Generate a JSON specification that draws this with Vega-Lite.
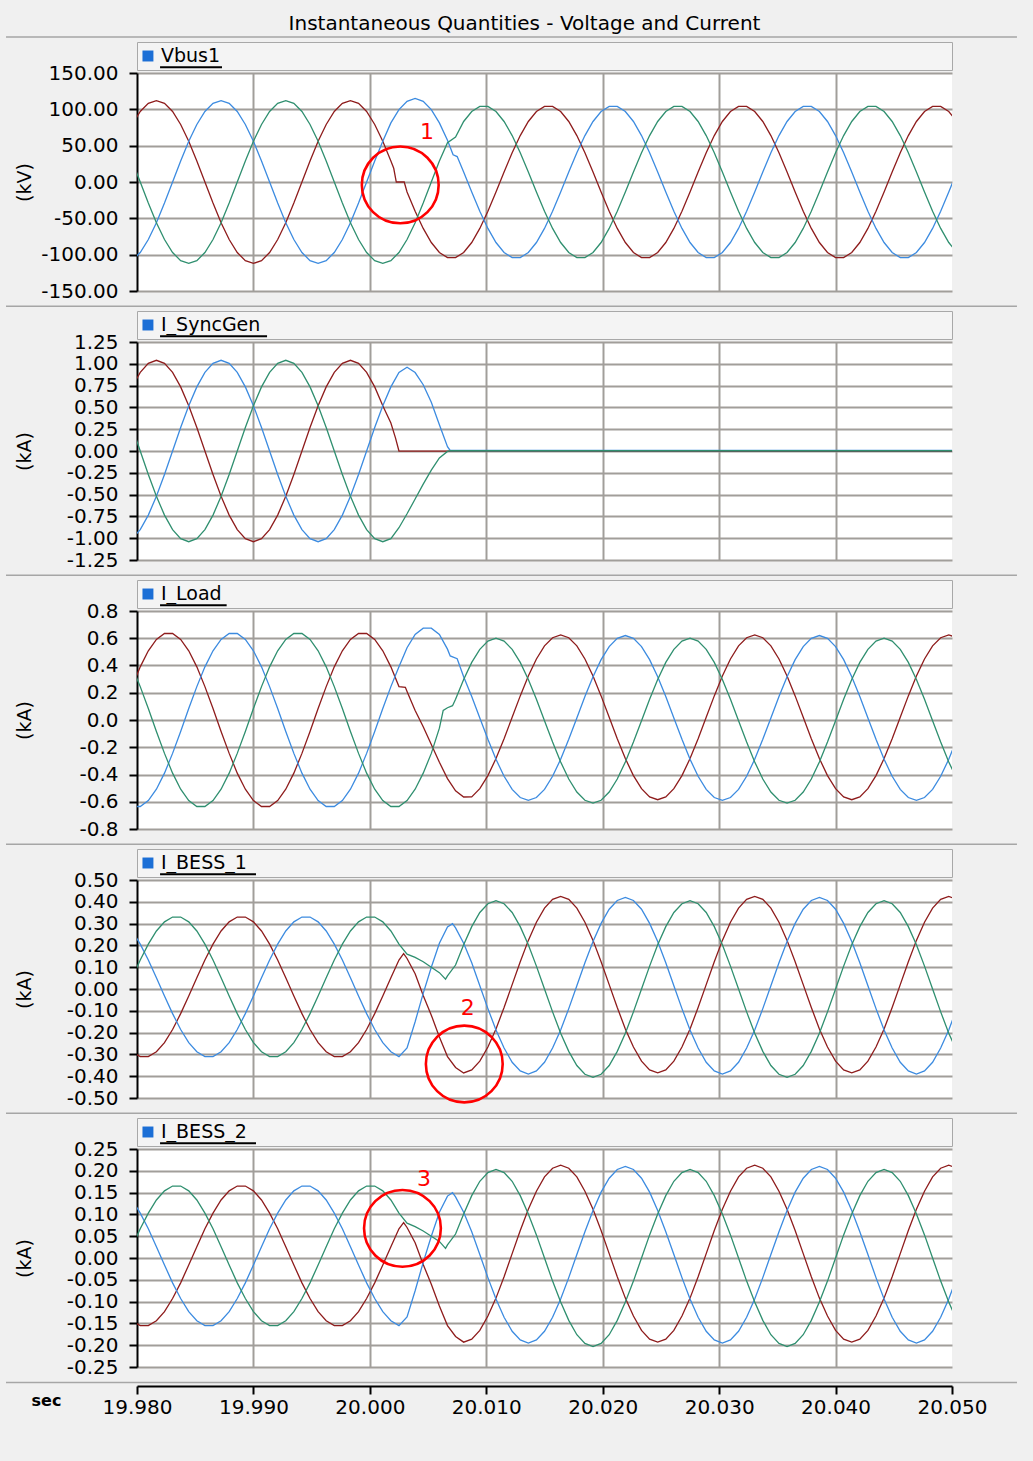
{
  "$schema": "https://vega.github.io/schema/vega-lite/v6.json",
  "background": "#f0f0f0",
  "padding": {"left": 4, "top": 13, "right": 40, "bottom": 60},
  "title": {"text": "Instantaneous Quantities - Voltage and Current", "font": "DejaVu Sans", "fontSize": 20, "fontWeight": "normal", "color": "#000000", "anchor": "middle", "frame": "group", "offset": 2, "dx": -20},
  "datasets": {
    "w": [
      {"t":19.979583,"r1":79.2,"b1":-108.2,"g1":29,"r2":0.735,"b2":-1.005,"g2":0.269,"r3":0.245,"b3":-0.635,"g3":0.39,"r4":-0.288,"b4":0.266,"g4":0.052,"r5":-0.144,"b5":0.133,"g5":0.026},
      {"t":19.980278,"r1":97,"b1":-97,"g1":0,"r2":0.901,"b2":-0.901,"g2":0,"r3":0.39,"b3":-0.635,"g3":0.245,"r4":-0.31,"b4":0.206,"g4":0.133,"r5":-0.155,"b5":0.103,"g5":0.067},
      {"t":19.980972,"r1":108.2,"b1":-79.2,"g1":-29,"r2":1.005,"b2":-0.735,"g2":-0.269,"r3":0.508,"b3":-0.591,"g3":0.084,"r4":-0.31,"b4":0.133,"g4":0.206,"r5":-0.155,"b5":0.067,"g5":0.103},
      {"t":19.981667,"r1":112,"b1":-56,"g1":-56,"r2":1.04,"b2":-0.52,"g2":-0.52,"r3":0.591,"b3":-0.508,"g3":-0.084,"r4":-0.288,"b4":0.052,"g4":0.266,"r5":-0.144,"b5":0.026,"g5":0.133},
      {"t":19.982361,"r1":108.2,"b1":-29,"g1":-79.2,"r2":1.005,"b2":-0.269,"g2":-0.735,"r3":0.635,"b3":-0.39,"g3":-0.245,"r4":-0.246,"b4":-0.032,"g4":0.308,"r5":-0.123,"b5":-0.016,"g5":0.154},
      {"t":19.983056,"r1":97,"b1":0,"g1":-97,"r2":0.901,"b2":0,"g2":-0.901,"r3":0.635,"b3":-0.245,"g3":-0.39,"r4":-0.186,"b4":-0.113,"g4":0.33,"r5":-0.093,"b5":-0.057,"g5":0.165},
      {"t":19.98375,"r1":79.2,"b1":29,"g1":-108.2,"r2":0.735,"b2":0.269,"g2":-1.005,"r3":0.591,"b3":-0.084,"g3":-0.508,"r4":-0.113,"b4":-0.186,"g4":0.33,"r5":-0.057,"b5":-0.093,"g5":0.165},
      {"t":19.984444,"r1":56,"b1":56,"g1":-112,"r2":0.52,"b2":0.52,"g2":-1.04,"r3":0.508,"b3":0.084,"g3":-0.591,"r4":-0.032,"b4":-0.246,"g4":0.308,"r5":-0.016,"b5":-0.123,"g5":0.154},
      {"t":19.985139,"r1":29,"b1":79.2,"g1":-108.2,"r2":0.269,"b2":0.735,"g2":-1.005,"r3":0.39,"b3":0.245,"g3":-0.635,"r4":0.052,"b4":-0.288,"g4":0.266,"r5":0.026,"b5":-0.144,"g5":0.133},
      {"t":19.985833,"r1":0,"b1":97,"g1":-97,"r2":0,"b2":0.901,"g2":-0.901,"r3":0.245,"b3":0.39,"g3":-0.635,"r4":0.133,"b4":-0.31,"g4":0.206,"r5":0.067,"b5":-0.155,"g5":0.103},
      {"t":19.986528,"r1":-29,"b1":108.2,"g1":-79.2,"r2":-0.269,"b2":1.005,"g2":-0.735,"r3":0.084,"b3":0.508,"g3":-0.591,"r4":0.206,"b4":-0.31,"g4":0.133,"r5":0.103,"b5":-0.155,"g5":0.067},
      {"t":19.987222,"r1":-56,"b1":112,"g1":-56,"r2":-0.52,"b2":1.04,"g2":-0.52,"r3":-0.084,"b3":0.591,"g3":-0.508,"r4":0.266,"b4":-0.288,"g4":0.052,"r5":0.133,"b5":-0.144,"g5":0.026},
      {"t":19.987917,"r1":-79.2,"b1":108.2,"g1":-29,"r2":-0.735,"b2":1.005,"g2":-0.269,"r3":-0.245,"b3":0.635,"g3":-0.39,"r4":0.308,"b4":-0.246,"g4":-0.032,"r5":0.154,"b5":-0.123,"g5":-0.016},
      {"t":19.988611,"r1":-97,"b1":97,"g1":0,"r2":-0.901,"b2":0.901,"g2":0,"r3":-0.39,"b3":0.635,"g3":-0.245,"r4":0.33,"b4":-0.186,"g4":-0.113,"r5":0.165,"b5":-0.093,"g5":-0.057},
      {"t":19.989306,"r1":-108.2,"b1":79.2,"g1":29,"r2":-1.005,"b2":0.735,"g2":0.269,"r3":-0.508,"b3":0.591,"g3":-0.084,"r4":0.33,"b4":-0.113,"g4":-0.186,"r5":0.165,"b5":-0.057,"g5":-0.093},
      {"t":19.99,"r1":-112,"b1":56,"g1":56,"r2":-1.04,"b2":0.52,"g2":0.52,"r3":-0.591,"b3":0.508,"g3":0.084,"r4":0.308,"b4":-0.032,"g4":-0.246,"r5":0.154,"b5":-0.016,"g5":-0.123},
      {"t":19.990694,"r1":-108.2,"b1":29,"g1":79.2,"r2":-1.005,"b2":0.269,"g2":0.735,"r3":-0.635,"b3":0.39,"g3":0.245,"r4":0.266,"b4":0.052,"g4":-0.288,"r5":0.133,"b5":0.026,"g5":-0.144},
      {"t":19.991389,"r1":-97,"b1":0,"g1":97,"r2":-0.901,"b2":0,"g2":0.901,"r3":-0.635,"b3":0.245,"g3":0.39,"r4":0.206,"b4":0.133,"g4":-0.31,"r5":0.103,"b5":0.067,"g5":-0.155},
      {"t":19.992083,"r1":-79.2,"b1":-29,"g1":108.2,"r2":-0.735,"b2":-0.269,"g2":1.005,"r3":-0.591,"b3":0.084,"g3":0.508,"r4":0.133,"b4":0.206,"g4":-0.31,"r5":0.067,"b5":0.103,"g5":-0.155},
      {"t":19.992778,"r1":-56,"b1":-56,"g1":112,"r2":-0.52,"b2":-0.52,"g2":1.04,"r3":-0.508,"b3":-0.084,"g3":0.591,"r4":0.052,"b4":0.266,"g4":-0.288,"r5":0.026,"b5":0.133,"g5":-0.144},
      {"t":19.993472,"r1":-29,"b1":-79.2,"g1":108.2,"r2":-0.269,"b2":-0.735,"g2":1.005,"r3":-0.39,"b3":-0.245,"g3":0.635,"r4":-0.032,"b4":0.308,"g4":-0.246,"r5":-0.016,"b5":0.154,"g5":-0.123},
      {"t":19.994167,"r1":0,"b1":-97,"g1":97,"r2":0,"b2":-0.901,"g2":0.901,"r3":-0.245,"b3":-0.39,"g3":0.635,"r4":-0.113,"b4":0.33,"g4":-0.186,"r5":-0.057,"b5":0.165,"g5":-0.093},
      {"t":19.994861,"r1":29,"b1":-108.2,"g1":79.2,"r2":0.269,"b2":-1.005,"g2":0.735,"r3":-0.084,"b3":-0.508,"g3":0.591,"r4":-0.186,"b4":0.33,"g4":-0.113,"r5":-0.093,"b5":0.165,"g5":-0.057},
      {"t":19.995556,"r1":56,"b1":-112,"g1":56,"r2":0.52,"b2":-1.04,"g2":0.52,"r3":0.084,"b3":-0.591,"g3":0.508,"r4":-0.246,"b4":0.308,"g4":-0.032,"r5":-0.123,"b5":0.154,"g5":-0.016},
      {"t":19.99625,"r1":79.2,"b1":-108.2,"g1":29,"r2":0.735,"b2":-1.005,"g2":0.269,"r3":0.245,"b3":-0.635,"g3":0.39,"r4":-0.288,"b4":0.266,"g4":0.052,"r5":-0.144,"b5":0.133,"g5":0.026},
      {"t":19.996944,"r1":97,"b1":-97,"g1":0,"r2":0.901,"b2":-0.901,"g2":0,"r3":0.39,"b3":-0.635,"g3":0.245,"r4":-0.31,"b4":0.206,"g4":0.133,"r5":-0.155,"b5":0.103,"g5":0.067},
      {"t":19.997639,"r1":108.2,"b1":-79.2,"g1":-29,"r2":1.005,"b2":-0.735,"g2":-0.269,"r3":0.508,"b3":-0.591,"g3":0.084,"r4":-0.31,"b4":0.133,"g4":0.206,"r5":-0.155,"b5":0.067,"g5":0.103},
      {"t":19.998333,"r1":112,"b1":-56,"g1":-56,"r2":1.04,"b2":-0.52,"g2":-0.52,"r3":0.591,"b3":-0.508,"g3":-0.084,"r4":-0.288,"b4":0.052,"g4":0.266,"r5":-0.144,"b5":0.026,"g5":0.133},
      {"t":19.999028,"r1":108.2,"b1":-29,"g1":-79.2,"r2":1.005,"b2":-0.269,"g2":-0.735,"r3":0.635,"b3":-0.39,"g3":-0.245,"r4":-0.246,"b4":-0.032,"g4":0.308,"r5":-0.123,"b5":-0.016,"g5":0.154},
      {"t":19.999722,"r1":97,"b1":0,"g1":-97,"r2":0.901,"b2":0,"g2":-0.901,"r3":0.635,"b3":-0.245,"g3":-0.39,"r4":-0.186,"b4":-0.113,"g4":0.33,"r5":-0.093,"b5":-0.057,"g5":0.165},
      {"t":20.000417,"r1":79.2,"b1":29,"g1":-108.2,"r2":0.735,"b2":0.269,"g2":-1.005,"r3":0.591,"b3":-0.084,"g3":-0.508,"r4":-0.113,"b4":-0.186,"g4":0.33,"r5":-0.057,"b5":-0.093,"g5":0.165},
      {"t":20.001111,"r1":56,"b1":56,"g1":-112,"r2":0.52,"b2":0.52,"g2":-1.04,"r3":0.508,"b3":0.084,"g3":-0.591,"r4":-0.032,"b4":-0.246,"g4":0.308,"r5":-0.016,"b5":-0.123,"g5":0.154},
      {"t":20.001806,"r1":29,"b1":81.3,"g1":-108.2,"r2":0.32,"b2":0.735,"g2":-1.005,"r3":0.39,"b3":0.245,"g3":-0.635,"r4":0.052,"b4":-0.288,"g4":0.266,"r5":0.026,"b5":-0.144,"g5":0.133},
      {"t":20.00205,"r1":18.9},
      {"t":20.0022,"r2":0.15},
      {"t":20.00227,"r1":0},
      {"t":20.0025,"r1":0,"b1":99.6,"g1":-97,"r2":0,"b2":0.9,"g2":-0.88,"r3":0.245,"b3":0.39,"g3":-0.635,"r4":0.133,"b4":-0.31,"g4":0.206,"r5":0.067,"b5":-0.155,"g5":0.103},
      {"t":20.0029,"r4":0.162,"r5":0.081},
      {"t":20.00295,"r1":0},
      {"t":20.00305,"r3":0.24},
      {"t":20.003194,"r1":-13.7,"b1":111.1,"g1":-79.2,"b2":0.96,"g2":-0.72,"r3":0.21,"b3":0.53,"g3":-0.591,"r4":0.14,"b4":-0.27,"g4":0.16,"r5":0.07,"b5":-0.135,"g5":0.08},
      {"t":20.003889,"r1":-40.2,"b1":115,"g1":-56,"b2":0.9,"g2":-0.55,"r3":0.07,"b3":0.628,"g3":-0.508,"r4":0.07,"b4":-0.15,"g4":0.145,"r5":0.035,"b5":-0.075,"g5":0.072},
      {"t":20.004583,"r1":-63.9,"b1":111.1,"g1":-29,"b2":0.76,"g2":-0.38,"r3":-0.05,"b3":0.674,"g3":-0.39,"r4":-0.03,"b4":-0.02,"g4":0.125,"r5":-0.015,"b5":-0.01,"g5":0.062},
      {"t":20.005278,"r1":-83.3,"b1":99.6,"g1":0,"b2":0.56,"g2":-0.22,"r3":-0.18,"b3":0.674,"g3":-0.245,"r4":-0.12,"b4":0.1,"g4":0.1,"r5":-0.06,"b5":0.05,"g5":0.05},
      {"t":20.005972,"r1":-97,"b1":81.3,"g1":29,"b2":0.3,"g2":-0.08,"r3":-0.31,"b3":0.628,"g3":-0.06,"r4":-0.22,"b4":0.21,"g4":0.075,"r5":-0.11,"b5":0.105,"g5":0.038},
      {"t":20.0063,"g3":0.07},
      {"t":20.0065,"g4":0.045,"g5":0.022},
      {"t":20.006667,"r1":-104.1,"b1":57.5,"g1":54,"b2":0.05,"g2":-0.005,"r3":-0.43,"b3":0.52,"g3":0.09,"r4":-0.31,"b4":0.285,"g4":0.06,"r5":-0.155,"b5":0.142,"g5":0.03},
      {"t":20.0069,"b2":0.006,"g2":0.003,"b3":0.47},
      {"t":20.0071,"g3":0.105,"b4":0.3,"b5":0.15},
      {"t":20.00715,"b1":37.5},
      {"t":20.007361,"r1":-104.1,"g1":62,"r3":-0.52,"g3":0.152,"r4":-0.36,"b4":0.28,"g4":0.11,"r5":-0.18,"b5":0.14,"g5":0.055},
      {"t":20.0075,"b1":35,"b3":0.45},
      {"t":20.008056,"r1":-97,"b1":13.7,"g1":83.3,"r3":-0.565,"b3":0.318,"g3":0.298,"r4":-0.385,"b4":0.21,"g4":0.2025,"r5":-0.193,"b5":0.105,"g5":0.101},
      {"t":20.00875,"r1":-83.3,"b1":-13.7,"g1":97,"r3":-0.564,"b3":0.172,"g3":0.423,"r4":-0.371,"b4":0.12,"g4":0.286,"r5":-0.186,"b5":0.06,"g5":0.143},
      {"t":20.009444,"r1":-63.9,"b1":-40.2,"g1":104.1,"r3":-0.504,"b3":0.015,"g3":0.519,"r4":-0.331,"b4":0.015,"g4":0.351,"r5":-0.166,"b5":0.008,"g5":0.176},
      {"t":20.010139,"r1":-40.2,"b1":-63.9,"g1":104.1,"r3":-0.408,"b3":-0.142,"g3":0.579,"r4":-0.266,"b4":-0.09,"g4":0.391,"r5":-0.133,"b5":-0.045,"g5":0.196},
      {"t":20.010833,"r1":-13.7,"b1":-83.3,"g1":97,"r3":-0.283,"b3":-0.288,"g3":0.6,"r4":-0.183,"b4":-0.188,"g4":0.405,"r5":-0.092,"b5":-0.094,"g5":0.203},
      {"t":20.011528,"r1":13.7,"b1":-97,"g1":83.3,"r3":-0.137,"b3":-0.413,"g3":0.579,"r4":-0.085,"b4":-0.271,"g4":0.391,"r5":-0.043,"b5":-0.136,"g5":0.196},
      {"t":20.012222,"r1":40.2,"b1":-104.1,"g1":63.9,"r3":0.02,"b3":-0.509,"g3":0.519,"r4":0.02,"b4":-0.336,"g4":0.351,"r5":0.01,"b5":-0.168,"g5":0.176},
      {"t":20.012917,"r1":63.9,"b1":-104.1,"g1":40.2,"r3":0.177,"b3":-0.569,"g3":0.423,"r4":0.125,"b4":-0.376,"g4":0.286,"r5":0.063,"b5":-0.188,"g5":0.143},
      {"t":20.013611,"r1":83.3,"b1":-97,"g1":13.7,"r3":0.323,"b3":-0.59,"g3":0.298,"r4":0.223,"b4":-0.39,"g4":0.2025,"r5":0.112,"b5":-0.195,"g5":0.101},
      {"t":20.014306,"r1":97,"b1":-83.3,"g1":-13.7,"r3":0.448,"b3":-0.569,"g3":0.152,"r4":0.306,"b4":-0.376,"g4":0.105,"r5":0.153,"b5":-0.188,"g5":0.053},
      {"t":20.015,"r1":104.1,"b1":-63.9,"g1":-40.2,"r3":0.544,"b3":-0.509,"g3":-0.005,"r4":0.371,"b4":-0.336,"g4":0,"r5":0.186,"b5":-0.168,"g5":0},
      {"t":20.015694,"r1":104.1,"b1":-40.2,"g1":-63.9,"r3":0.604,"b3":-0.413,"g3":-0.162,"r4":0.411,"b4":-0.271,"g4":-0.105,"r5":0.206,"b5":-0.136,"g5":-0.053},
      {"t":20.016389,"r1":97,"b1":-13.7,"g1":-83.3,"r3":0.625,"b3":-0.288,"g3":-0.308,"r4":0.425,"b4":-0.188,"g4":-0.2025,"r5":0.213,"b5":-0.094,"g5":-0.101},
      {"t":20.017083,"r1":83.3,"b1":13.7,"g1":-97,"r3":0.604,"b3":-0.142,"g3":-0.433,"r4":0.411,"b4":-0.09,"g4":-0.286,"r5":0.206,"b5":-0.045,"g5":-0.143},
      {"t":20.017778,"r1":63.9,"b1":40.2,"g1":-104.1,"r3":0.544,"b3":0.015,"g3":-0.529,"r4":0.371,"b4":0.015,"g4":-0.351,"r5":0.186,"b5":0.008,"g5":-0.176},
      {"t":20.018472,"r1":40.2,"b1":63.9,"g1":-104.1,"r3":0.448,"b3":0.172,"g3":-0.589,"r4":0.306,"b4":0.12,"g4":-0.391,"r5":0.153,"b5":0.06,"g5":-0.196},
      {"t":20.019167,"r1":13.7,"b1":83.3,"g1":-97,"r3":0.323,"b3":0.318,"g3":-0.61,"r4":0.223,"b4":0.218,"g4":-0.405,"r5":0.112,"b5":0.109,"g5":-0.203},
      {"t":20.019861,"r1":-13.7,"b1":97,"g1":-83.3,"r3":0.177,"b3":0.443,"g3":-0.589,"r4":0.125,"b4":0.301,"g4":-0.391,"r5":0.063,"b5":0.151,"g5":-0.196},
      {"t":20.020556,"r1":-40.2,"b1":104.1,"g1":-63.9,"r3":0.02,"b3":0.539,"g3":-0.529,"r4":0.02,"b4":0.366,"g4":-0.351,"r5":0.01,"b5":0.183,"g5":-0.176},
      {"t":20.02125,"r1":-63.9,"b1":104.1,"g1":-40.2,"r3":-0.137,"b3":0.599,"g3":-0.433,"r4":-0.085,"b4":0.406,"g4":-0.286,"r5":-0.043,"b5":0.203,"g5":-0.143},
      {"t":20.021944,"r1":-83.3,"b1":97,"g1":-13.7,"r3":-0.283,"b3":0.62,"g3":-0.308,"r4":-0.183,"b4":0.42,"g4":-0.2025,"r5":-0.092,"b5":0.21,"g5":-0.101},
      {"t":20.022639,"r1":-97,"b1":83.3,"g1":13.7,"r3":-0.408,"b3":0.599,"g3":-0.162,"r4":-0.266,"b4":0.406,"g4":-0.105,"r5":-0.133,"b5":0.203,"g5":-0.053},
      {"t":20.023333,"r1":-104.1,"b1":63.9,"g1":40.2,"r3":-0.504,"b3":0.539,"g3":-0.005,"r4":-0.331,"b4":0.366,"g4":0,"r5":-0.166,"b5":0.183,"g5":0},
      {"t":20.024028,"r1":-104.1,"b1":40.2,"g1":63.9,"r3":-0.564,"b3":0.443,"g3":0.152,"r4":-0.371,"b4":0.301,"g4":0.105,"r5":-0.186,"b5":0.151,"g5":0.053},
      {"t":20.024722,"r1":-97,"b1":13.7,"g1":83.3,"r3":-0.585,"b3":0.318,"g3":0.298,"r4":-0.385,"b4":0.218,"g4":0.2025,"r5":-0.193,"b5":0.109,"g5":0.101},
      {"t":20.025417,"r1":-83.3,"b1":-13.7,"g1":97,"r3":-0.564,"b3":0.172,"g3":0.423,"r4":-0.371,"b4":0.12,"g4":0.286,"r5":-0.186,"b5":0.06,"g5":0.143},
      {"t":20.026111,"r1":-63.9,"b1":-40.2,"g1":104.1,"r3":-0.504,"b3":0.015,"g3":0.519,"r4":-0.331,"b4":0.015,"g4":0.351,"r5":-0.166,"b5":0.008,"g5":0.176},
      {"t":20.026806,"r1":-40.2,"b1":-63.9,"g1":104.1,"r3":-0.408,"b3":-0.142,"g3":0.579,"r4":-0.266,"b4":-0.09,"g4":0.391,"r5":-0.133,"b5":-0.045,"g5":0.196},
      {"t":20.0275,"r1":-13.7,"b1":-83.3,"g1":97,"r3":-0.283,"b3":-0.288,"g3":0.6,"r4":-0.183,"b4":-0.188,"g4":0.405,"r5":-0.092,"b5":-0.094,"g5":0.203},
      {"t":20.028194,"r1":13.7,"b1":-97,"g1":83.3,"r3":-0.137,"b3":-0.413,"g3":0.579,"r4":-0.085,"b4":-0.271,"g4":0.391,"r5":-0.043,"b5":-0.136,"g5":0.196},
      {"t":20.028889,"r1":40.2,"b1":-104.1,"g1":63.9,"r3":0.02,"b3":-0.509,"g3":0.519,"r4":0.02,"b4":-0.336,"g4":0.351,"r5":0.01,"b5":-0.168,"g5":0.176},
      {"t":20.029583,"r1":63.9,"b1":-104.1,"g1":40.2,"r3":0.177,"b3":-0.569,"g3":0.423,"r4":0.125,"b4":-0.376,"g4":0.286,"r5":0.063,"b5":-0.188,"g5":0.143},
      {"t":20.030278,"r1":83.3,"b1":-97,"g1":13.7,"r3":0.323,"b3":-0.59,"g3":0.298,"r4":0.223,"b4":-0.39,"g4":0.2025,"r5":0.112,"b5":-0.195,"g5":0.101},
      {"t":20.030972,"r1":97,"b1":-83.3,"g1":-13.7,"r3":0.448,"b3":-0.569,"g3":0.152,"r4":0.306,"b4":-0.376,"g4":0.105,"r5":0.153,"b5":-0.188,"g5":0.053},
      {"t":20.031667,"r1":104.1,"b1":-63.9,"g1":-40.2,"r3":0.544,"b3":-0.509,"g3":-0.005,"r4":0.371,"b4":-0.336,"g4":0,"r5":0.186,"b5":-0.168,"g5":0},
      {"t":20.032361,"r1":104.1,"b1":-40.2,"g1":-63.9,"r3":0.604,"b3":-0.413,"g3":-0.162,"r4":0.411,"b4":-0.271,"g4":-0.105,"r5":0.206,"b5":-0.136,"g5":-0.053},
      {"t":20.033056,"r1":97,"b1":-13.7,"g1":-83.3,"r3":0.625,"b3":-0.288,"g3":-0.308,"r4":0.425,"b4":-0.188,"g4":-0.2025,"r5":0.213,"b5":-0.094,"g5":-0.101},
      {"t":20.03375,"r1":83.3,"b1":13.7,"g1":-97,"r3":0.604,"b3":-0.142,"g3":-0.433,"r4":0.411,"b4":-0.09,"g4":-0.286,"r5":0.206,"b5":-0.045,"g5":-0.143},
      {"t":20.034444,"r1":63.9,"b1":40.2,"g1":-104.1,"r3":0.544,"b3":0.015,"g3":-0.529,"r4":0.371,"b4":0.015,"g4":-0.351,"r5":0.186,"b5":0.008,"g5":-0.176},
      {"t":20.035139,"r1":40.2,"b1":63.9,"g1":-104.1,"r3":0.448,"b3":0.172,"g3":-0.589,"r4":0.306,"b4":0.12,"g4":-0.391,"r5":0.153,"b5":0.06,"g5":-0.196},
      {"t":20.035833,"r1":13.7,"b1":83.3,"g1":-97,"r3":0.323,"b3":0.318,"g3":-0.61,"r4":0.223,"b4":0.218,"g4":-0.405,"r5":0.112,"b5":0.109,"g5":-0.203},
      {"t":20.036528,"r1":-13.7,"b1":97,"g1":-83.3,"r3":0.177,"b3":0.443,"g3":-0.589,"r4":0.125,"b4":0.301,"g4":-0.391,"r5":0.063,"b5":0.151,"g5":-0.196},
      {"t":20.037222,"r1":-40.2,"b1":104.1,"g1":-63.9,"r3":0.02,"b3":0.539,"g3":-0.529,"r4":0.02,"b4":0.366,"g4":-0.351,"r5":0.01,"b5":0.183,"g5":-0.176},
      {"t":20.037917,"r1":-63.9,"b1":104.1,"g1":-40.2,"r3":-0.137,"b3":0.599,"g3":-0.433,"r4":-0.085,"b4":0.406,"g4":-0.286,"r5":-0.043,"b5":0.203,"g5":-0.143},
      {"t":20.038611,"r1":-83.3,"b1":97,"g1":-13.7,"r3":-0.283,"b3":0.62,"g3":-0.308,"r4":-0.183,"b4":0.42,"g4":-0.2025,"r5":-0.092,"b5":0.21,"g5":-0.101},
      {"t":20.039306,"r1":-97,"b1":83.3,"g1":13.7,"r3":-0.408,"b3":0.599,"g3":-0.162,"r4":-0.266,"b4":0.406,"g4":-0.105,"r5":-0.133,"b5":0.203,"g5":-0.053},
      {"t":20.04,"r1":-104.1,"b1":63.9,"g1":40.2,"r3":-0.504,"b3":0.539,"g3":-0.005,"r4":-0.331,"b4":0.366,"g4":0,"r5":-0.166,"b5":0.183,"g5":0},
      {"t":20.040694,"r1":-104.1,"b1":40.2,"g1":63.9,"r3":-0.564,"b3":0.443,"g3":0.152,"r4":-0.371,"b4":0.301,"g4":0.105,"r5":-0.186,"b5":0.151,"g5":0.053},
      {"t":20.041389,"r1":-97,"b1":13.7,"g1":83.3,"r3":-0.585,"b3":0.318,"g3":0.298,"r4":-0.385,"b4":0.218,"g4":0.2025,"r5":-0.193,"b5":0.109,"g5":0.101},
      {"t":20.042083,"r1":-83.3,"b1":-13.7,"g1":97,"r3":-0.564,"b3":0.172,"g3":0.423,"r4":-0.371,"b4":0.12,"g4":0.286,"r5":-0.186,"b5":0.06,"g5":0.143},
      {"t":20.042778,"r1":-63.9,"b1":-40.2,"g1":104.1,"r3":-0.504,"b3":0.015,"g3":0.519,"r4":-0.331,"b4":0.015,"g4":0.351,"r5":-0.166,"b5":0.008,"g5":0.176},
      {"t":20.043472,"r1":-40.2,"b1":-63.9,"g1":104.1,"r3":-0.408,"b3":-0.142,"g3":0.579,"r4":-0.266,"b4":-0.09,"g4":0.391,"r5":-0.133,"b5":-0.045,"g5":0.196},
      {"t":20.044167,"r1":-13.7,"b1":-83.3,"g1":97,"r3":-0.283,"b3":-0.288,"g3":0.6,"r4":-0.183,"b4":-0.188,"g4":0.405,"r5":-0.092,"b5":-0.094,"g5":0.203},
      {"t":20.044861,"r1":13.7,"b1":-97,"g1":83.3,"r3":-0.137,"b3":-0.413,"g3":0.579,"r4":-0.085,"b4":-0.271,"g4":0.391,"r5":-0.043,"b5":-0.136,"g5":0.196},
      {"t":20.045556,"r1":40.2,"b1":-104.1,"g1":63.9,"r3":0.02,"b3":-0.509,"g3":0.519,"r4":0.02,"b4":-0.336,"g4":0.351,"r5":0.01,"b5":-0.168,"g5":0.176},
      {"t":20.04625,"r1":63.9,"b1":-104.1,"g1":40.2,"r3":0.177,"b3":-0.569,"g3":0.423,"r4":0.125,"b4":-0.376,"g4":0.286,"r5":0.063,"b5":-0.188,"g5":0.143},
      {"t":20.046944,"r1":83.3,"b1":-97,"g1":13.7,"r3":0.323,"b3":-0.59,"g3":0.298,"r4":0.223,"b4":-0.39,"g4":0.2025,"r5":0.112,"b5":-0.195,"g5":0.101},
      {"t":20.047639,"r1":97,"b1":-83.3,"g1":-13.7,"r3":0.448,"b3":-0.569,"g3":0.152,"r4":0.306,"b4":-0.376,"g4":0.105,"r5":0.153,"b5":-0.188,"g5":0.053},
      {"t":20.048333,"r1":104.1,"b1":-63.9,"g1":-40.2,"r3":0.544,"b3":-0.509,"g3":-0.005,"r4":0.371,"b4":-0.336,"g4":0,"r5":0.186,"b5":-0.168,"g5":0},
      {"t":20.049028,"r1":104.1,"b1":-40.2,"g1":-63.9,"r3":0.604,"b3":-0.413,"g3":-0.162,"r4":0.411,"b4":-0.271,"g4":-0.105,"r5":0.206,"b5":-0.136,"g5":-0.053},
      {"t":20.049722,"r1":97,"b1":-13.7,"g1":-83.3,"r3":0.625,"b3":-0.288,"g3":-0.308,"r4":0.425,"b4":-0.188,"g4":-0.2025,"r5":0.213,"b5":-0.094,"g5":-0.101},
      {"t":20.050417,"r1":83.3,"b1":13.7,"g1":-97,"r2":-0.004,"b2":0.006,"g2":0.003,"r3":0.604,"b3":-0.142,"g3":-0.433,"r4":0.411,"b4":-0.09,"g4":-0.286,"r5":0.206,"b5":-0.045,"g5":-0.143}
    ],
    "lab": [
      {"p":1,"name":"Vbus1","sq":19.98094,"tx":19.98206,"u0":19.98198,"u1":19.9873,"uy":0.1},
      {"p":2,"name":"I_SyncGen","sq":19.98094,"tx":19.98206,"u0":19.98198,"u1":19.99117,"uy":0.1},
      {"p":3,"name":"I_Load","sq":19.98094,"tx":19.98206,"u0":19.98198,"u1":19.9877,"uy":0.1},
      {"p":4,"name":"I_BESS_1","sq":19.98094,"tx":19.98206,"u0":19.98198,"u1":19.99022,"uy":0.1},
      {"p":5,"name":"I_BESS_2","sq":19.98094,"tx":19.98206,"u0":19.98198,"u1":19.99022,"uy":0.1}
    ],
    "sep": [
      {"p":0,"s0":19.96875,"s1":20.05558,"sy":1.18},
      {"p":1,"s0":19.96875,"s1":20.05558,"sy":0.12},
      {"p":2,"s0":19.96875,"s1":20.05558,"sy":0.12},
      {"p":3,"s0":19.96875,"s1":20.05558,"sy":0.12},
      {"p":4,"s0":19.96875,"s1":20.05558,"sy":0.12},
      {"p":5,"s0":19.96875,"s1":20.05558,"sy":-0.05}
    ],
    "ann": [
      {"p":1,"k":"c","t":20.00261,"v":-4},
      {"p":1,"k":"l","t":20.00491,"v":69,"lab":"1"},
      {"p":4,"k":"c","t":20.00811,"v":-0.344},
      {"p":4,"k":"l","t":20.00841,"v":-0.089,"lab":"2"},
      {"p":5,"k":"c","t":20.0028,"v":0.068},
      {"p":5,"k":"l","t":20.00464,"v":0.181,"lab":"3"}
    ]
  },
  "spacing": 3,
  "bounds": "flush",
  "vconcat": [
    {"width": 815, "height": 28, "view": {"fill": "#f4f4f4", "stroke": "#a8a8a8"},
     "data": {"name": "lab"}, "transform": [{"filter": "datum.p == 1"}],
     "layer": [
       {"data": {"name": "sep"}, "transform": [{"filter": "datum.p == 0"}], "mark": {"type": "rule", "color": "#a6a6a6", "strokeWidth": 1.5}, "encoding": {"x": {"field": "s0", "type": "quantitative", "scale": {"domain": [19.98, 20.05], "nice": false, "zero": false}, "axis": null}, "x2": {"field": "s1"}, "y": {"field": "sy", "type": "quantitative", "scale": {"domain": [0, 1]}, "axis": null}}},
       {"mark": {"type": "square", "color": "#1c6fd6", "size": 120, "opacity": 1}, "encoding": {"x": {"field": "sq", "type": "quantitative", "axis": null}}},
       {"mark": {"type": "text", "align": "left", "baseline": "middle", "fontSize": 19, "color": "#000000"}, "encoding": {"x": {"field": "tx", "type": "quantitative", "axis": null}, "text": {"field": "name", "type": "nominal"}}},
       {"mark": {"type": "rule", "strokeWidth": 2, "color": "#000000"}, "encoding": {"x": {"field": "u0", "type": "quantitative", "axis": null}, "x2": {"field": "u1"}, "y": {"field": "uy", "type": "quantitative", "axis": null}}}
     ]},
    {"width": 815, "height": 218, "view": {"fill": "#ffffff", "stroke": null},
     "encoding": {
       "x": {"field": "t", "type": "quantitative", "scale": {"domain": [19.98, 20.05], "nice": false, "zero": false}, "axis": {"values": [19.99, 20, 20.01, 20.02, 20.03, 20.04], "title": null}},
       "y": {"field": "v", "type": "quantitative", "scale": {"domain": [-150, 150], "nice": false, "zero": false}, "axis": {"values": [-150, -100, -50, 0, 50, 100, 150], "format": ".2f", "title": "(kV)"}}
     },
     "layer": [
       {"data": {"name": "w"}, "transform": [{"fold": ["r1", "b1", "g1"], "as": ["s", "v"]}, {"filter": "isValid(datum.v)"}],
        "mark": {"type": "line", "strokeWidth": 1.3, "clip": true},
        "encoding": {
          "color": {"field": "s", "type": "nominal", "legend": null, "scale": {"domain": ["r1","b1","g1","r2","b2","g2","r3","b3","g3","r4","b4","g4","r5","b5","g5"], "range": ["#8e1c1c","#3c8be0","#2f8f6f","#8e1c1c","#3c8be0","#2f8f6f","#8e1c1c","#3c8be0","#2f8f6f","#8e1c1c","#3c8be0","#2f8f6f","#8e1c1c","#3c8be0","#2f8f6f"]}}
        }},
       {"data": {"name": "ann"}, "transform": [{"filter": "datum.p == 1 && datum.k == 'c'"}],
        "mark": {"type": "point", "shape": "circle", "filled": false, "stroke": "#ff0000", "strokeWidth": 2.6, "size": 5900, "opacity": 1}},
       {"data": {"name": "ann"}, "transform": [{"filter": "datum.p == 1 && datum.k == 'l'"}],
        "mark": {"type": "text", "color": "#ff0000", "fontSize": 22, "align": "center", "baseline": "middle"},
        "encoding": {"text": {"field": "lab", "type": "nominal"}}}
     ]},
    {"width": 815, "height": 14, "data": {"name": "sep"}, "transform": [{"filter": "datum.p == 1"}],
     "mark": {"type": "rule", "color": "#a6a6a6", "strokeWidth": 1.5},
     "encoding": {"x": {"field": "s0", "type": "quantitative", "scale": {"domain": [19.98, 20.05], "nice": false, "zero": false}, "axis": null}, "x2": {"field": "s1"}, "y": {"field": "sy", "type": "quantitative", "scale": {"domain": [0, 1]}, "axis": null}}},
    {"width": 815, "height": 28, "view": {"fill": "#f4f4f4", "stroke": "#a8a8a8"},
     "data": {"name": "lab"}, "transform": [{"filter": "datum.p == 2"}],
     "layer": [
       {"mark": {"type": "square", "color": "#1c6fd6", "size": 120, "opacity": 1}, "encoding": {"x": {"field": "sq", "type": "quantitative", "scale": {"domain": [19.98, 20.05], "nice": false, "zero": false}, "axis": null}}},
       {"mark": {"type": "text", "align": "left", "baseline": "middle", "fontSize": 19, "color": "#000000"}, "encoding": {"x": {"field": "tx", "type": "quantitative", "axis": null}, "text": {"field": "name", "type": "nominal"}}},
       {"mark": {"type": "rule", "strokeWidth": 2, "color": "#000000"}, "encoding": {"x": {"field": "u0", "type": "quantitative", "axis": null}, "x2": {"field": "u1"}, "y": {"field": "uy", "type": "quantitative", "scale": {"domain": [0, 1]}, "axis": null}}}
     ]},
    {"width": 815, "height": 218, "view": {"fill": "#ffffff", "stroke": null},
     "data": {"name": "w"}, "transform": [{"fold": ["r2", "b2", "g2"], "as": ["s", "v"]}, {"filter": "isValid(datum.v)"}],
     "mark": {"type": "line", "strokeWidth": 1.3, "clip": true},
     "encoding": {
       "x": {"field": "t", "type": "quantitative", "scale": {"domain": [19.98, 20.05], "nice": false, "zero": false}, "axis": {"values": [19.99, 20, 20.01, 20.02, 20.03, 20.04], "title": null}},
       "y": {"field": "v", "type": "quantitative", "scale": {"domain": [-1.25, 1.25], "nice": false, "zero": false}, "axis": {"values": [-1.25, -1, -0.75, -0.5, -0.25, 0, 0.25, 0.5, 0.75, 1, 1.25], "format": ".2f", "title": "(kA)"}},
       "color": {"field": "s", "type": "nominal", "legend": null, "scale": {"domain": ["r1","b1","g1","r2","b2","g2","r3","b3","g3","r4","b4","g4","r5","b5","g5"], "range": ["#8e1c1c","#3c8be0","#2f8f6f","#8e1c1c","#3c8be0","#2f8f6f","#8e1c1c","#3c8be0","#2f8f6f","#8e1c1c","#3c8be0","#2f8f6f","#8e1c1c","#3c8be0","#2f8f6f"]}}
     }},
    {"width": 815, "height": 14, "data": {"name": "sep"}, "transform": [{"filter": "datum.p == 2"}],
     "mark": {"type": "rule", "color": "#a6a6a6", "strokeWidth": 1.5},
     "encoding": {"x": {"field": "s0", "type": "quantitative", "scale": {"domain": [19.98, 20.05], "nice": false, "zero": false}, "axis": null}, "x2": {"field": "s1"}, "y": {"field": "sy", "type": "quantitative", "scale": {"domain": [0, 1]}, "axis": null}}},
    {"width": 815, "height": 28, "view": {"fill": "#f4f4f4", "stroke": "#a8a8a8"},
     "data": {"name": "lab"}, "transform": [{"filter": "datum.p == 3"}],
     "layer": [
       {"mark": {"type": "square", "color": "#1c6fd6", "size": 120, "opacity": 1}, "encoding": {"x": {"field": "sq", "type": "quantitative", "scale": {"domain": [19.98, 20.05], "nice": false, "zero": false}, "axis": null}}},
       {"mark": {"type": "text", "align": "left", "baseline": "middle", "fontSize": 19, "color": "#000000"}, "encoding": {"x": {"field": "tx", "type": "quantitative", "axis": null}, "text": {"field": "name", "type": "nominal"}}},
       {"mark": {"type": "rule", "strokeWidth": 2, "color": "#000000"}, "encoding": {"x": {"field": "u0", "type": "quantitative", "axis": null}, "x2": {"field": "u1"}, "y": {"field": "uy", "type": "quantitative", "scale": {"domain": [0, 1]}, "axis": null}}}
     ]},
    {"width": 815, "height": 218, "view": {"fill": "#ffffff", "stroke": null},
     "data": {"name": "w"}, "transform": [{"fold": ["r3", "b3", "g3"], "as": ["s", "v"]}, {"filter": "isValid(datum.v)"}],
     "mark": {"type": "line", "strokeWidth": 1.3, "clip": true},
     "encoding": {
       "x": {"field": "t", "type": "quantitative", "scale": {"domain": [19.98, 20.05], "nice": false, "zero": false}, "axis": {"values": [19.99, 20, 20.01, 20.02, 20.03, 20.04], "title": null}},
       "y": {"field": "v", "type": "quantitative", "scale": {"domain": [-0.8, 0.8], "nice": false, "zero": false}, "axis": {"values": [-0.8, -0.6, -0.4, -0.2, 0, 0.2, 0.4, 0.6, 0.8], "format": ".1f", "title": "(kA)"}},
       "color": {"field": "s", "type": "nominal", "legend": null, "scale": {"domain": ["r1","b1","g1","r2","b2","g2","r3","b3","g3","r4","b4","g4","r5","b5","g5"], "range": ["#8e1c1c","#3c8be0","#2f8f6f","#8e1c1c","#3c8be0","#2f8f6f","#8e1c1c","#3c8be0","#2f8f6f","#8e1c1c","#3c8be0","#2f8f6f","#8e1c1c","#3c8be0","#2f8f6f"]}}
     }},
    {"width": 815, "height": 14, "data": {"name": "sep"}, "transform": [{"filter": "datum.p == 3"}],
     "mark": {"type": "rule", "color": "#a6a6a6", "strokeWidth": 1.5},
     "encoding": {"x": {"field": "s0", "type": "quantitative", "scale": {"domain": [19.98, 20.05], "nice": false, "zero": false}, "axis": null}, "x2": {"field": "s1"}, "y": {"field": "sy", "type": "quantitative", "scale": {"domain": [0, 1]}, "axis": null}}},
    {"width": 815, "height": 28, "view": {"fill": "#f4f4f4", "stroke": "#a8a8a8"},
     "data": {"name": "lab"}, "transform": [{"filter": "datum.p == 4"}],
     "layer": [
       {"mark": {"type": "square", "color": "#1c6fd6", "size": 120, "opacity": 1}, "encoding": {"x": {"field": "sq", "type": "quantitative", "scale": {"domain": [19.98, 20.05], "nice": false, "zero": false}, "axis": null}}},
       {"mark": {"type": "text", "align": "left", "baseline": "middle", "fontSize": 19, "color": "#000000"}, "encoding": {"x": {"field": "tx", "type": "quantitative", "axis": null}, "text": {"field": "name", "type": "nominal"}}},
       {"mark": {"type": "rule", "strokeWidth": 2, "color": "#000000"}, "encoding": {"x": {"field": "u0", "type": "quantitative", "axis": null}, "x2": {"field": "u1"}, "y": {"field": "uy", "type": "quantitative", "scale": {"domain": [0, 1]}, "axis": null}}}
     ]},
    {"width": 815, "height": 218, "view": {"fill": "#ffffff", "stroke": null},
     "encoding": {
       "x": {"field": "t", "type": "quantitative", "scale": {"domain": [19.98, 20.05], "nice": false, "zero": false}, "axis": {"values": [19.99, 20, 20.01, 20.02, 20.03, 20.04], "title": null}},
       "y": {"field": "v", "type": "quantitative", "scale": {"domain": [-0.5, 0.5], "nice": false, "zero": false}, "axis": {"values": [-0.5, -0.4, -0.3, -0.2, -0.1, 0, 0.1, 0.2, 0.3, 0.4, 0.5], "format": ".2f", "title": "(kA)"}}
     },
     "layer": [
       {"data": {"name": "w"}, "transform": [{"fold": ["r4", "b4", "g4"], "as": ["s", "v"]}, {"filter": "isValid(datum.v)"}],
        "mark": {"type": "line", "strokeWidth": 1.3, "clip": true},
        "encoding": {
          "color": {"field": "s", "type": "nominal", "legend": null, "scale": {"domain": ["r1","b1","g1","r2","b2","g2","r3","b3","g3","r4","b4","g4","r5","b5","g5"], "range": ["#8e1c1c","#3c8be0","#2f8f6f","#8e1c1c","#3c8be0","#2f8f6f","#8e1c1c","#3c8be0","#2f8f6f","#8e1c1c","#3c8be0","#2f8f6f","#8e1c1c","#3c8be0","#2f8f6f"]}}
        }},
       {"data": {"name": "ann"}, "transform": [{"filter": "datum.p == 4 && datum.k == 'c'"}],
        "mark": {"type": "point", "shape": "circle", "filled": false, "stroke": "#ff0000", "strokeWidth": 2.6, "size": 5900, "opacity": 1}},
       {"data": {"name": "ann"}, "transform": [{"filter": "datum.p == 4 && datum.k == 'l'"}],
        "mark": {"type": "text", "color": "#ff0000", "fontSize": 22, "align": "center", "baseline": "middle"},
        "encoding": {"text": {"field": "lab", "type": "nominal"}}}
     ]},
    {"width": 815, "height": 14, "data": {"name": "sep"}, "transform": [{"filter": "datum.p == 4"}],
     "mark": {"type": "rule", "color": "#a6a6a6", "strokeWidth": 1.5},
     "encoding": {"x": {"field": "s0", "type": "quantitative", "scale": {"domain": [19.98, 20.05], "nice": false, "zero": false}, "axis": null}, "x2": {"field": "s1"}, "y": {"field": "sy", "type": "quantitative", "scale": {"domain": [0, 1]}, "axis": null}}},
    {"width": 815, "height": 28, "view": {"fill": "#f4f4f4", "stroke": "#a8a8a8"},
     "data": {"name": "lab"}, "transform": [{"filter": "datum.p == 5"}],
     "layer": [
       {"mark": {"type": "square", "color": "#1c6fd6", "size": 120, "opacity": 1}, "encoding": {"x": {"field": "sq", "type": "quantitative", "scale": {"domain": [19.98, 20.05], "nice": false, "zero": false}, "axis": null}}},
       {"mark": {"type": "text", "align": "left", "baseline": "middle", "fontSize": 19, "color": "#000000"}, "encoding": {"x": {"field": "tx", "type": "quantitative", "axis": null}, "text": {"field": "name", "type": "nominal"}}},
       {"mark": {"type": "rule", "strokeWidth": 2, "color": "#000000"}, "encoding": {"x": {"field": "u0", "type": "quantitative", "axis": null}, "x2": {"field": "u1"}, "y": {"field": "uy", "type": "quantitative", "scale": {"domain": [0, 1]}, "axis": null}}}
     ]},
    {"width": 815, "height": 218, "view": {"fill": "#ffffff", "stroke": null},
     "encoding": {
       "x": {"field": "t", "type": "quantitative", "scale": {"domain": [19.98, 20.05], "nice": false, "zero": false}, "axis": {"values": [19.99, 20, 20.01, 20.02, 20.03, 20.04], "title": null}},
       "y": {"field": "v", "type": "quantitative", "scale": {"domain": [-0.25, 0.25], "nice": false, "zero": false}, "axis": {"values": [-0.25, -0.2, -0.15, -0.1, -0.05, 0, 0.05, 0.1, 0.15, 0.2, 0.25], "format": ".2f", "title": "(kA)"}}
     },
     "layer": [
       {"data": {"name": "w"}, "transform": [{"fold": ["r5", "b5", "g5"], "as": ["s", "v"]}, {"filter": "isValid(datum.v)"}],
        "mark": {"type": "line", "strokeWidth": 1.3, "clip": true},
        "encoding": {
          "color": {"field": "s", "type": "nominal", "legend": null, "scale": {"domain": ["r1","b1","g1","r2","b2","g2","r3","b3","g3","r4","b4","g4","r5","b5","g5"], "range": ["#8e1c1c","#3c8be0","#2f8f6f","#8e1c1c","#3c8be0","#2f8f6f","#8e1c1c","#3c8be0","#2f8f6f","#8e1c1c","#3c8be0","#2f8f6f","#8e1c1c","#3c8be0","#2f8f6f"]}}
        }},
       {"data": {"name": "ann"}, "transform": [{"filter": "datum.p == 5 && datum.k == 'c'"}],
        "mark": {"type": "point", "shape": "circle", "filled": false, "stroke": "#ff0000", "strokeWidth": 2.6, "size": 5900, "opacity": 1}},
       {"data": {"name": "ann"}, "transform": [{"filter": "datum.p == 5 && datum.k == 'l'"}],
        "mark": {"type": "text", "color": "#ff0000", "fontSize": 22, "align": "center", "baseline": "middle"},
        "encoding": {"text": {"field": "lab", "type": "nominal"}}}
     ]},
    {"width": 815, "height": 12, "data": {"name": "sep"}, "transform": [{"filter": "datum.p == 5"}],
     "mark": {"type": "rule", "color": "#a6a6a6", "strokeWidth": 1.5},
     "encoding": {"x": {"field": "s0", "type": "quantitative", "scale": {"domain": [19.98, 20.05], "nice": false, "zero": false}, "axis": null}, "x2": {"field": "s1"}, "y": {"field": "sy", "type": "quantitative", "scale": {"domain": [0, 1]}, "axis": null}}},
    {"width": 815, "height": 1, "data": {"name": "lab"}, "transform": [{"filter": "datum.p == 1"}],
     "mark": {"type": "point", "opacity": 0},
     "encoding": {"x": {"field": "tx", "type": "quantitative", "scale": {"domain": [19.98, 20.05], "nice": false, "zero": false},
       "axis": {"orient": "bottom", "values": [19.98, 19.99, 20, 20.01, 20.02, 20.03, 20.04, 20.05], "format": ".3f", "grid": false, "domain": true, "ticks": true, "labels": true, "labelFlush": false, "labelPadding": 3, "title": "sec", "titleX": -91, "titleY": 14, "titleAngle": 0, "titleAlign": "center", "titleBaseline": "middle", "titleFontSize": 16, "titleFontWeight": "bold"}}}}
  ],
  "config": {
    "font": "DejaVu Sans",
    "view": {"stroke": null},
    "axis": {"labelFont": "DejaVu Sans", "labelFontSize": 20, "labelColor": "#000000", "domainColor": "#000000", "domainWidth": 2, "tickColor": "#000000", "tickWidth": 2, "tickSize": 8, "gridColor": "#a19e9a", "gridWidth": 2, "gridOpacity": 1, "titleFont": "DejaVu Sans", "titleFontSize": 19, "titleFontWeight": "normal", "titleColor": "#000000", "labelOverlap": false, "labelExpr": "replace(datum.label, '\u2212', '-')"},
    "axisY": {"labelPadding": 11, "titleX": -113, "titleY": 109, "titleAngle": -90, "titleAlign": "center", "titleBaseline": "middle", "grid": true},
    "axisX": {"grid": true, "labels": false, "ticks": false, "domain": false}
  }
}
